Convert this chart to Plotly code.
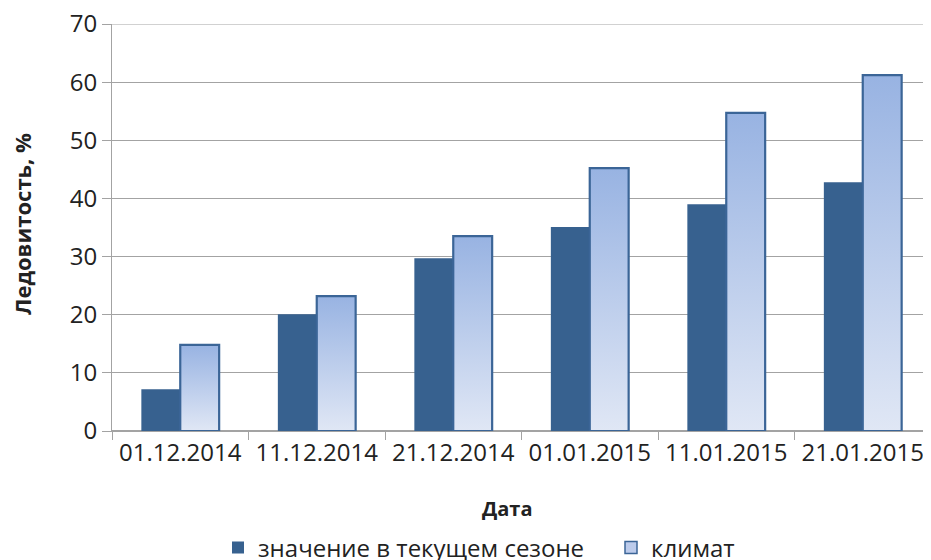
import plotly.graph_objects as go

categories = ["01.12.2014", "11.12.2014", "21.12.2014", "01.01.2015", "11.01.2015", "21.01.2015"]
current_season = [7.2, 20.1, 29.7, 35.1, 39.0, 42.8]
climate = [14.8, 23.2, 33.5, 45.2, 54.7, 61.2]
y_ticks = [0, 10, 20, 30, 40, 50, 60, 70]

name_cur = "значение в текущем сезоне"
name_clim = "климат"
x_title = "Дата"
y_title = "Ледовитость, %"

BW = 0.285
DARK = "#37618f"
EDGE = "#3b6597"
GRID = "#a3a3a3"
TXT = "#222222"
FONT = "Open Sans"

# the page body adds an 8px margin; the figure is sized to fill the 931x560 window
W, H = 923, 552
ML, MT, MB = 104, 16, 129
PW = W - ML          # plot width
PH = H - MT - MB     # plot height

idx = list(range(len(categories)))

fig = go.Figure()
fig.add_trace(go.Bar(
    x=idx, y=current_season, width=BW, offset=-BW,
    marker=dict(color=DARK, line=dict(color=DARK, width=0)),
    name=name_cur, showlegend=True, legendrank=1, legendwidth=348,
))
# legend entry for climate (square swatch)
fig.add_trace(go.Bar(
    x=[None], y=[None], width=BW, offset=0,
    marker=dict(color="#bccbeb", line=dict(color=EDGE, width=1.5)),
    name=name_clim, showlegend=True, legendrank=2,
))

for i, v in zip(idx, climate):
    x0, x1 = i, i + BW
    fig.add_trace(go.Scatter(
        x=[x0, x0, x1, x1, x0], y=[0, v, v, 0, 0],
        mode="lines", fill="toself",
        line=dict(color=EDGE, width=2.2),
        fillgradient=dict(type="vertical",
                          colorscale=[[0, "#e0e7f5"], [1, "#98b3e2"]],
                          start=0, stop=v),
        name=name_clim, showlegend=False, hoverinfo="skip",
    ))

fig.update_layout(
    width=W, height=H,
    margin=dict(l=ML, r=0, t=MT, b=MB, pad=0),
    plot_bgcolor="white", paper_bgcolor="white",
    font=dict(family=FONT, color=TXT),
    showlegend=True,
    legend=dict(orientation="h", xref="paper", x=(210 - ML) / PW, xanchor="left",
                yref="container", y=(H - 540) / H, yanchor="middle",
                font=dict(size=24, family=FONT, color=TXT),
                traceorder="normal"),
    annotations=[
        dict(text="<b>" + y_title + "</b>", xref="paper", yref="paper",
             x=0, xshift=-90, y=(PH - 200) / PH, textangle=-90,
             xanchor="center", yanchor="middle", showarrow=False,
             font=dict(size=22, family=FONT, color=TXT)),
        dict(text="<b>" + x_title + "</b>", xref="paper", yref="paper",
             x=(499 - ML) / PW, y=-78 / PH,
             xanchor="center", yanchor="middle", showarrow=False,
             font=dict(size=20, family=FONT, color=TXT)),
    ],
    # top gridline (plotly omits gridlines that sit on the plot edge)
    shapes=[dict(type="line", xref="paper", yref="y", x0=0, x1=1,
                 y0=y_ticks[-1], y1=y_ticks[-1], layer="below",
                 line=dict(color=GRID, width=1))],
)

fig.update_xaxes(
    range=[-0.5, 5.5], automargin=False,
    tickmode="array", tickvals=idx, ticktext=categories,
    ticks="", tickfont=dict(size=24, family=FONT, color=TXT),
    ticklabeloverflow="allow",
    showgrid=False, zeroline=False,
    showline=True, linecolor=GRID, linewidth=1,
    minor=dict(tickmode="linear", tick0=-0.5, dtick=1, ticks="outside",
               ticklen=8, tickcolor=GRID, tickwidth=1, showgrid=False),
)

fig.update_yaxes(
    range=[0, 70], automargin=False,
    tickmode="array", tickvals=y_ticks,
    ticks="outside", ticklen=9, tickcolor=GRID,
    tickfont=dict(size=24, family=FONT, color=TXT),
    ticklabeloverflow="allow",
    showgrid=True, gridcolor=GRID, gridwidth=1,
    zeroline=True, zerolinecolor=GRID,
    showline=True, linecolor=GRID, linewidth=1,
)

fig.write_html("out.html")
